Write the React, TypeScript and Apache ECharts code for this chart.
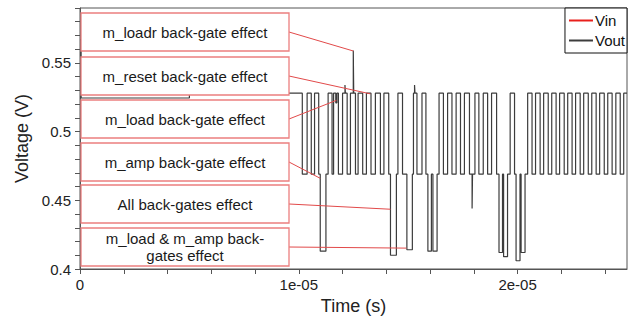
import React, { useEffect, useRef } from "react";
import * as echarts from "echarts";

// Vout transitions (time in microseconds, value held until next point)
const voutTimeUs = [
  0, 0.05, 5.0, 10.16, 10.38, 10.57, 10.72, 10.91, 10.98, 11.24, 11.34, 11.52, 11.59, 11.69, 11.74, 11.81,
  12.0, 12.11, 12.13, 12.21, 12.36, 12.49, 12.51, 12.59, 12.71, 12.92, 13.09, 13.3, 13.5, 13.73, 13.89, 14.11,
  14.19, 14.46, 14.53, 14.74, 14.94, 15.19, 15.24, 15.29, 15.31, 15.4, 15.63, 15.81, 15.9, 16.06, 16.13, 16.32,
  16.41, 16.61, 16.8, 17.0, 17.19, 17.39, 17.57, 17.8, 17.92, 17.94, 18.05, 18.23, 18.43, 18.63, 18.81, 19.04,
  19.15, 19.31, 19.36, 19.54, 19.66, 19.86, 19.93, 20.11, 20.16, 20.34, 20.46, 20.66, 20.82, 21.03, 21.19, 21.4,
  21.56, 21.76, 21.92, 22.13, 22.29, 22.49, 22.65, 22.86, 23.02, 23.23, 23.39, 23.59, 23.75, 23.96, 24.12, 24.32,
  24.49, 24.69, 24.85, 25.0,
];
const voutVolt = [
  0.567, 0.5245, 0.528, 0.469, 0.528, 0.469, 0.528, 0.469, 0.413, 0.469, 0.528, 0.469, 0.528, 0.521, 0.528, 0.469,
  0.528, 0.534, 0.528, 0.469, 0.528, 0.559, 0.528, 0.469, 0.528, 0.469, 0.528, 0.469, 0.528, 0.469, 0.528, 0.469,
  0.41, 0.469, 0.528, 0.469, 0.414, 0.469, 0.528, 0.534, 0.528, 0.469, 0.528, 0.469, 0.413, 0.469, 0.413, 0.469,
  0.528, 0.469, 0.528, 0.469, 0.528, 0.469, 0.528, 0.469, 0.444, 0.469, 0.528, 0.469, 0.528, 0.469, 0.528, 0.469,
  0.412, 0.469, 0.409, 0.469, 0.528, 0.469, 0.406, 0.469, 0.412, 0.469, 0.528, 0.469, 0.528, 0.469, 0.528, 0.469,
  0.528, 0.469, 0.528, 0.469, 0.528, 0.469, 0.528, 0.469, 0.528, 0.469, 0.528, 0.469, 0.528, 0.469, 0.528, 0.469,
  0.528, 0.469, 0.528, 0.528,
];
// Vin is not visible inside the plotted range
const vinTimeUs: number[] = [];
const vinVolt: number[] = [];

const seriesNames = ["Vin", "Vout"];

const annotationLabels = [
  "m_loadr back-gate effect",
  "m_reset back-gate effect",
  "m_load back-gate effect",
  "m_amp back-gate effect",
  "All back-gates effect",
  "m_load & m_amp back-\ngates effect",
];
const annotationTimeUs = [12.49, 13.27, 11.72, 10.98, 14.19, 14.92];
const annotationVolt = [0.5587, 0.5275, 0.5228, 0.466, 0.4435, 0.4152];

const xAxisTitle = "Time (s)";
const yAxisTitle = "Voltage (V)";

const FONT = '"Liberation Sans", Arial, sans-serif';

export default function App() {
  const ref = useRef<HTMLDivElement>(null);

  useEffect(() => {
    if (!ref.current) return;
    const chart = echarts.init(ref.current, undefined, { renderer: "svg" });

    const vout = voutTimeUs.map((t, i) => [t * 1e-6, voutVolt[i]]);
    const vin = vinTimeUs.map((t, i) => [t * 1e-6, vinVolt[i]]);

    chart.setOption({
      animation: false,
      backgroundColor: "#ffffff",
      grid: {
        left: 80,
        right: 9,
        top: 8,
        bottom: 53,
        show: true,
        borderColor: "#555",
        borderWidth: 1,
        backgroundColor: "transparent",
      },
      legend: {
        right: 9,
        top: 8,
        orient: "vertical",
        backgroundColor: "#fff",
        borderColor: "#111",
        borderWidth: 1,
        borderRadius: 0,
        padding: [5, 2, 5, 4],
        itemGap: 5,
        itemWidth: 24,
        itemHeight: 2,
        icon: "rect",
        data: seriesNames,
        textStyle: { fontSize: 15, color: "#111", fontFamily: FONT, padding: [0, 0, 0, -3] },
      },
      xAxis: {
        type: "value",
        min: 0,
        max: 2.5e-5,
        interval: 2e-6,
        name: xAxisTitle,
        nameLocation: "middle",
        nameGap: 26,
        nameTextStyle: { fontSize: 18, color: "#222", fontFamily: FONT },
        axisLine: { show: true, onZero: false, lineStyle: { color: "#555", width: 1 } },
        axisTick: { show: true, inside: false, length: 5, lineStyle: { color: "#555" } },
        splitLine: { show: false },
        axisLabel: {
          fontSize: 15,
          color: "#222",
          fontFamily: FONT,
          margin: 8,
          showMaxLabel: false,
          formatter: (v: number) => {
            const r = v / 1e-5;
            if (Math.abs(r - Math.round(r)) > 1e-6) return "";
            const k = Math.round(r);
            if (k === 0) return "0";
            return k + "e-05";
          },
        },
      },
      yAxis: {
        type: "value",
        min: 0.4,
        max: 0.59,
        interval: 0.01,
        name: yAxisTitle,
        nameLocation: "middle",
        nameGap: 46,
        nameTextStyle: { fontSize: 18, color: "#222", fontFamily: FONT },
        axisLine: { show: true, onZero: false, lineStyle: { color: "#555", width: 1 } },
        axisTick: { show: true, inside: false, length: 5, lineStyle: { color: "#555" } },
        splitLine: { show: false },
        axisLabel: {
          fontSize: 15,
          color: "#222",
          fontFamily: FONT,
          margin: 9,
          formatter: (v: number) => {
            const k = Math.round(v * 100);
            if (k % 5 !== 0) return "";
            return String(k / 100);
          },
        },
      },
      series: [
        {
          name: seriesNames[0],
          type: "line",
          step: "end",
          showSymbol: false,
          data: vin,
          lineStyle: { color: "#e8201c", width: 1.5 },
          itemStyle: { color: "#e8201c" },
        },
        {
          name: seriesNames[1],
          type: "line",
          step: "end",
          showSymbol: false,
          data: vout,
          lineStyle: { color: "#3c3c3c", width: 1.2 },
          itemStyle: { color: "#3c3c3c" },
        },
      ],
    });

    const boxLeft = 81;
    const boxWidth = 208;
    const boxHeight = 38;
    const boxTops = [13, 57, 100, 143, 185, 228];

    const elements: any[] = [];
    annotationLabels.forEach((label, i) => {
      const top = boxTops[i];
      const cy = top + boxHeight / 2;
      const target = chart.convertToPixel({ gridIndex: 0 }, [annotationTimeUs[i] * 1e-6, annotationVolt[i]]) as number[];
      elements.push({
        type: "line",
        z: 10,
        shape: { x1: boxLeft + boxWidth, y1: cy, x2: target[0], y2: target[1] },
        style: { stroke: "#e24a4a", lineWidth: 1 },
      });
      elements.push({
        type: "rect",
        z: 11,
        shape: { x: boxLeft, y: top, width: boxWidth, height: boxHeight },
        style: { fill: "#ffffff", stroke: "#ec7f7f", lineWidth: 1.3 },
      });
      elements.push({
        type: "text",
        z: 12,
        x: boxLeft + boxWidth / 2,
        y: cy,
        style: {
          text: label,
          align: "center",
          verticalAlign: "middle",
          fontSize: 15,
          lineHeight: 17,
          fontFamily: FONT,
          fill: "#1a1a1a",
        },
      });
    });
    chart.setOption({ graphic: elements });

    return () => chart.dispose();
  }, []);

  return (
    <div
      ref={ref}
      style={{ position: "absolute", left: 0, top: 0, width: 636, height: 322, background: "#fff" }}
    />
  );
}
